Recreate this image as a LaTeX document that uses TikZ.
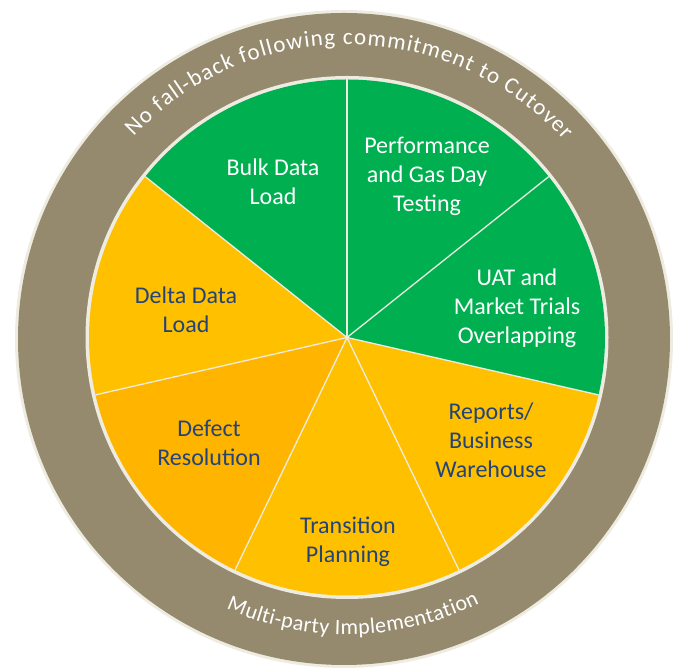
\documentclass[tikz,border=0pt]{standalone}
\usepackage{fontspec}
\setmainfont{Carlito}
\usetikzlibrary{decorations.text}
\definecolor{ringc}{RGB}{150,138,110}
\definecolor{creamc}{RGB}{238,236,225}
\definecolor{greenc}{RGB}{0,176,80}
\definecolor{yellowc}{RGB}{255,192,0}
\definecolor{orangec}{RGB}{255,180,0}
\definecolor{navyc}{RGB}{36,68,120}
\newcommand{\ringfont}{\fontsize{23}{27}\selectfont}
\newcommand{\ringfontb}{\fontsize{22}{26}\selectfont}
\begin{document}
\begin{tikzpicture}[x=1pt,y=1pt,
  lbl/.style={align=center, inner sep=0pt, font=\fontsize{24}{29}\selectfont},
  onGreen/.style={lbl, text=white},
  onYellow/.style={lbl, text=navyc},
  divider/.style={draw=creamc, line width=1.3pt},
  ringtext/.style={decorate, decoration={text along path, text align=fit to path, text color=white}}]
\useasboundingbox (0,0) rectangle (673,671);
\coordinate (O) at (344,332);
\coordinate (P) at (347,333.5);
% outer ring
\fill[creamc] (O) circle[radius=329];
\fill[ringc] (O) circle[radius=326];
\fill[creamc] (P) circle[radius=261.5];
% slices
\foreach \a/\b/\c in {90/38.571/greenc, 38.571/-12.857/greenc, -12.857/-64.286/yellowc,
  -64.286/-115.714/yellowc, -115.714/-167.143/orangec, 192.857/141.429/yellowc, 141.429/90/greenc}
  \fill[\c] (P) -- ++(\a:258) arc[start angle=\a, end angle=\b, radius=258] -- cycle;
\foreach \a in {90,38.571,-12.857,-64.286,-115.714,-167.143,141.429}
  \draw[divider] (P) -- ++(\a:258);
% labels
\node[onGreen] (bulk) at (273,489) {Bulk Data\\Load};
\node[onGreen] (perf) at (427,495) {Performance\\and Gas Day\\Testing};
\node[onGreen] (uat) at (517,363) {UAT and\\Market Trials\\Overlapping};
\node[onYellow] (rep) at (491,231) {Reports/\\Business\\Warehouse};
\node[onYellow] (trans) at (348,129) {Transition\\Planning};
\node[onYellow] (def) at (209,228) {Defect\\Resolution};
\node[onYellow] (delta) at (186,361) {Delta Data\\Load};
% ring texts
\path[shift={(P)}, ringtext, decoration={text={|\ringfont|No fall-back following commitment to Cutover}}]
  (136.7:293) arc[start angle=136.7, end angle=42.2, radius=293];
\path[shift={(P)}, ringtext, decoration={text={|\ringfontb|Multi-party Implementation}}]
  (-114:297) arc[start angle=-114, end angle=-63.5, radius=297];
\end{tikzpicture}
\end{document}
